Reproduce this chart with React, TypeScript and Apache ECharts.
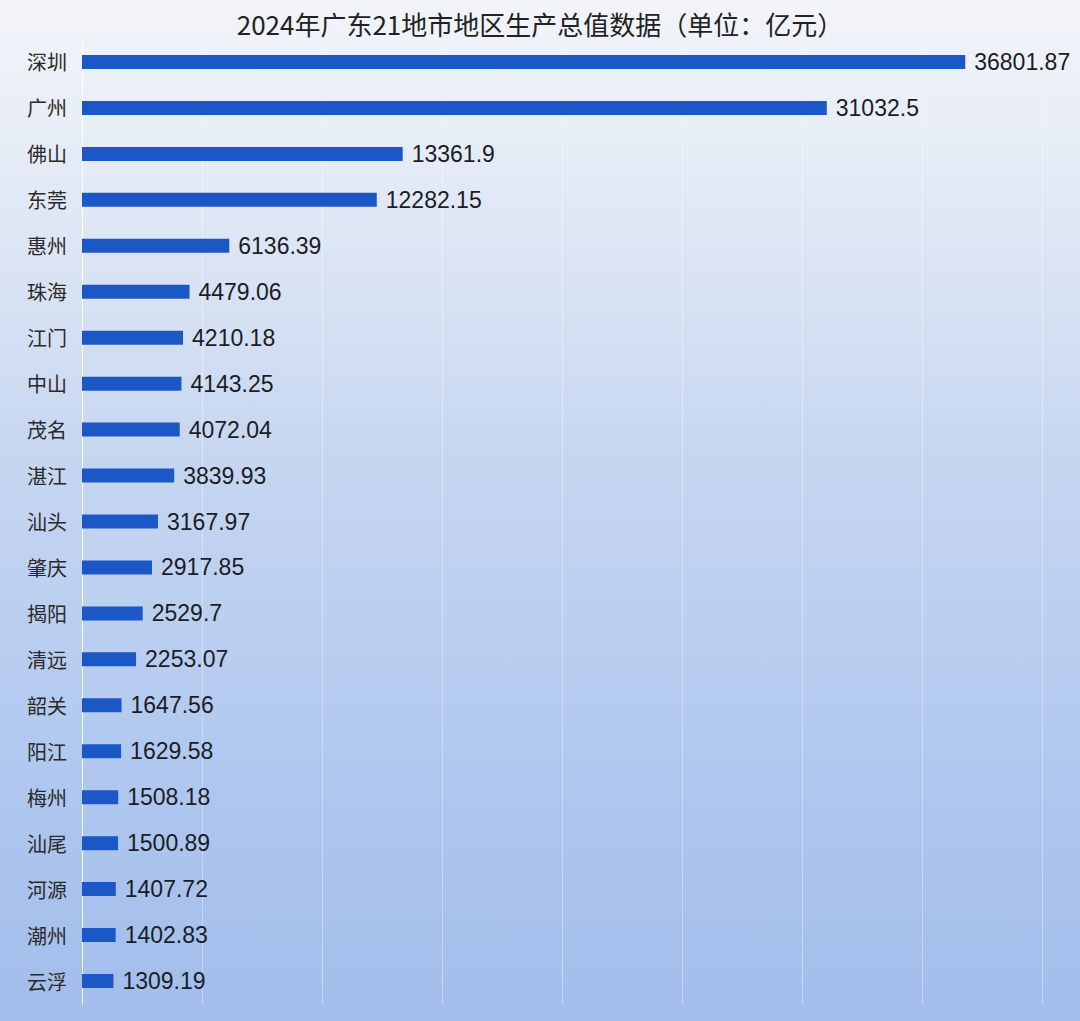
import React, { useEffect, useRef } from "react";
import * as echarts from "echarts";

const titleText = "2024年广东21地市地区生产总值数据（单位：亿元）";
const cities = [
  "深圳", "广州", "佛山", "东莞", "惠州", "珠海", "江门", "中山", "茂名", "湛江",
  "汕头", "肇庆", "揭阳", "清远", "韶关", "阳江", "梅州", "汕尾", "河源", "潮州", "云浮",
];
const gdpValues = [
  36801.87, 31032.5, 13361.9, 12282.15, 6136.39, 4479.06, 4210.18, 4143.25, 4072.04, 3839.93,
  3167.97, 2917.85, 2529.7, 2253.07, 1647.56, 1629.58, 1508.18, 1500.89, 1407.72, 1402.83, 1309.19,
];
const gdpLabels = [
  "36801.87", "31032.5", "13361.9", "12282.15", "6136.39", "4479.06", "4210.18", "4143.25", "4072.04", "3839.93",
  "3167.97", "2917.85", "2529.7", "2253.07", "1647.56", "1629.58", "1508.18", "1500.89", "1407.72", "1402.83", "1309.19",
];

export default function App() {
  const ref = useRef<HTMLDivElement>(null);
  useEffect(() => {
    if (!ref.current) return;
    const chart = echarts.init(ref.current, undefined, { renderer: "svg" });
    chart.setOption({
      animation: false,
      backgroundColor: new echarts.graphic.LinearGradient(0, 0, 0, 1, [
        { offset: 0, color: "#f2f4f8" },
        { offset: 0.15, color: "#e6ecf6" },
        { offset: 0.45, color: "#c6d6f0" },
        { offset: 0.75, color: "#b0c8ef" },
        { offset: 1, color: "#a2bdec" },
      ]),
      title: {
        text: titleText,
        left: "center",
        top: 5,
        textStyle: {
          fontSize: 26,
          fontWeight: "normal",
          color: "#222",
          fontFamily: "Noto Sans CJK SC",
        },
      },
      grid: { left: 82, right: 38, top: 39, bottom: 17, containLabel: false },
      xAxis: {
        type: "value",
        min: 0,
        max: 40000,
        interval: 5000,
        axisLabel: { show: false },
        axisLine: { show: false },
        axisTick: { show: false },
        splitLine: { show: true, lineStyle: { color: "rgba(255,255,255,0.35)", width: 1 } },
      },
      yAxis: {
        type: "category",
        inverse: true,
        data: cities,
        axisLine: { show: true, lineStyle: { color: "rgba(255,255,255,0.8)", width: 1 } },
        axisTick: { show: false },
        axisLabel: {
          margin: 15,
          fontSize: 20,
          color: "#2a2a2a",
          fontFamily: "Noto Sans CJK SC",
        },
      },
      series: [
        {
          type: "bar",
          data: gdpValues,
          barWidth: 14,
          itemStyle: { color: "#1c57c6" },
          label: {
            show: true,
            position: "right",
            distance: 9,
            fontSize: 23,
            color: "#1a1d26",
            fontFamily: "Liberation Sans",
            formatter: (p: any) => gdpLabels[p.dataIndex],
          },
        },
      ],
    });
    return () => chart.dispose();
  }, []);
  return (
    <div
      ref={ref}
      style={{ position: "fixed", left: 0, top: 0, width: 1080, height: 1021 }}
    />
  );
}
